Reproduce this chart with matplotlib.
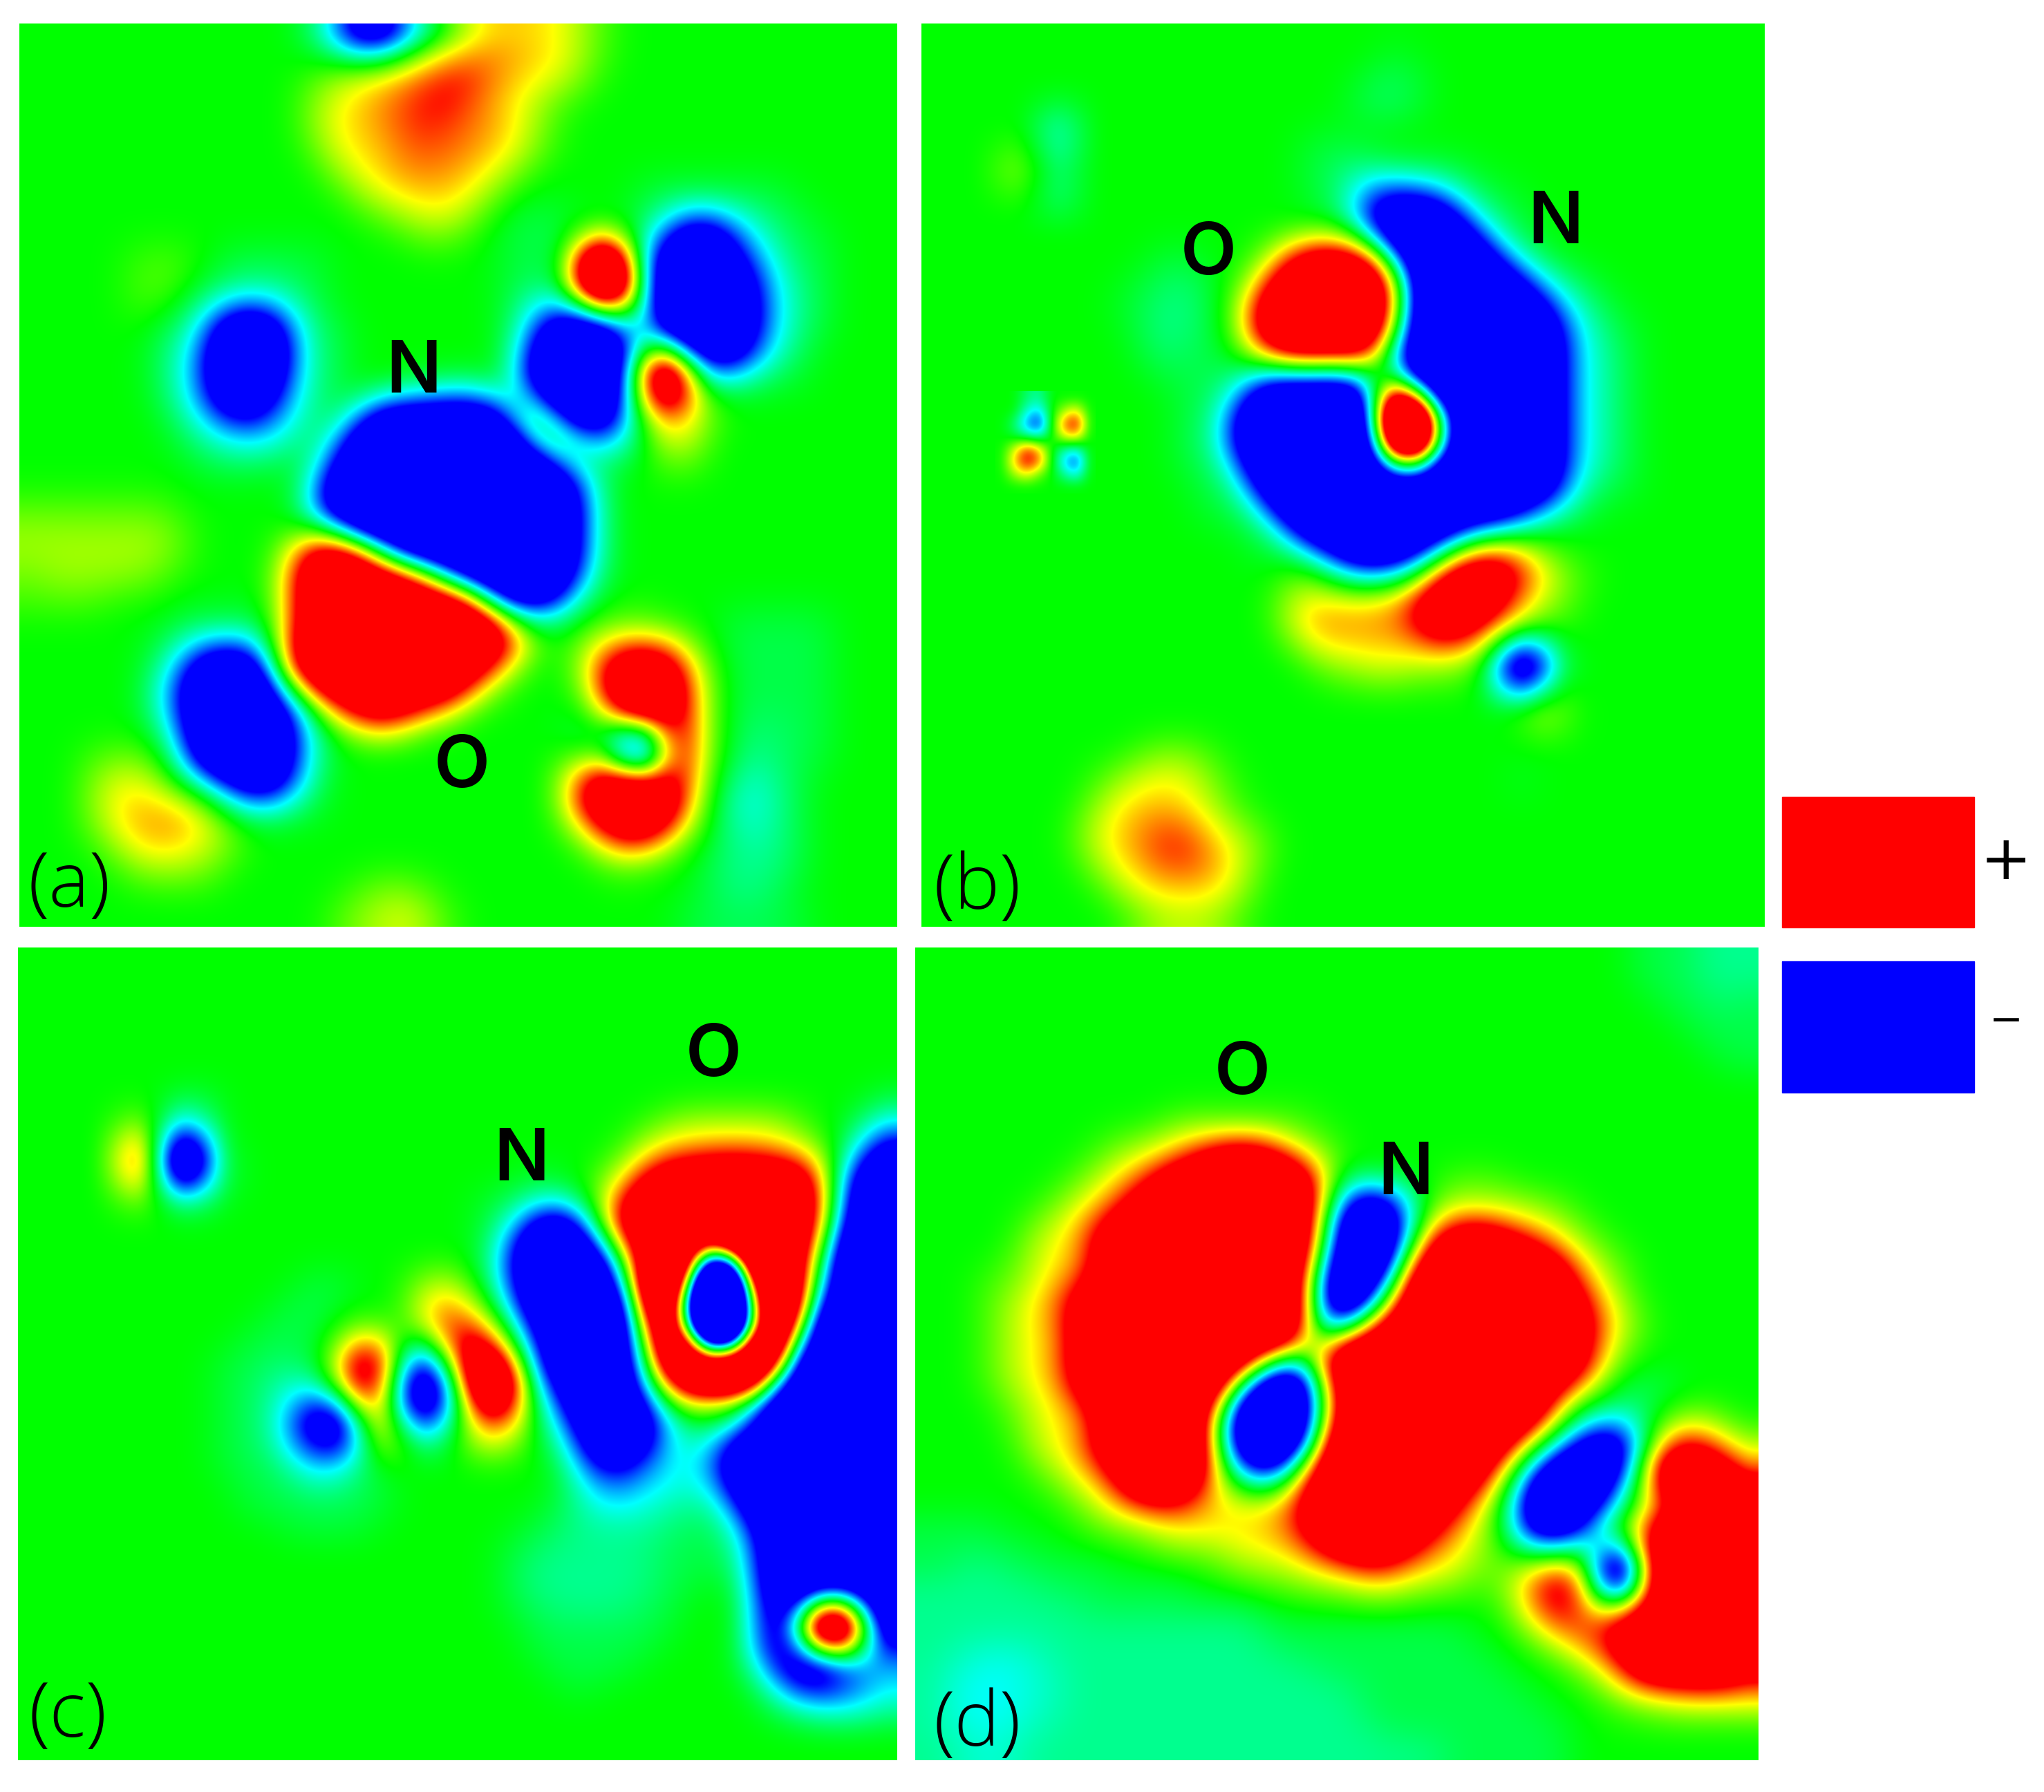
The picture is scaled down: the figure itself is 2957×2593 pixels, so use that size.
import numpy as np
import matplotlib
matplotlib.use("Agg")
import matplotlib.pyplot as plt
from matplotlib.colors import LinearSegmentedColormap
from matplotlib.patches import Rectangle

W, H = 2957, 2593
GRID = 40

# density on a 40x40 grid, as (row, first col, codes); unlisted cells are 0
LEVELS = {".": 0.0, "a": 0.16, "b": 0.32, "c": 0.55, "d": 0.8, "e": 1.1, "f": 2.0, "g": 5.0,
          "A": -0.14, "B": -0.28, "H": -0.4, "C": -0.5, "D": -0.8, "E": -1.1, "F": -2.0, "G": -5.0}

cells_a = [
    (0, 13, "BDFFECA"), (0, 20, "bccccba"), (1, 17, "bcddddccba"), (2, 13, "abccddeedcccb"), (3, 13, "bccddeedccb"),
    (4, 13, "bccddedddcba"), (5, 13, "acccddddccb"), (6, 14, "bccdddccb"),
    (7, 15, "bcccccb"), (7, 28, "AAAAAAA"),
    (8, 16, "abccb"), (8, 22, "AAA"), (8, 28, "ABCCBBAA"),
    (9, 18, "aa"), (9, 22, "AAAA"), (9, 28, "BDFFECBAA"),
    (10, 5, "aaa"), (10, 9, "AAAAA"), (10, 22, "AAA"), (10, 25, "agcCFFFEDBAA"),
    (11, 5, "aaa"), (11, 8, "AABBAA"), (11, 22, "AAA"), (11, 25, "cgfCFFFFECBA"),
    (12, 5, "aa"), (12, 7, "ABCCCBA"), (12, 22, "ACCB"), (12, 26, "ceCFFFFECBA"),
    (13, 6, "ABCFFFCBA"), (13, 22, "ADFFFE.FFFFECBA"),
    (14, 6, "ACDFFFCBA"), (14, 22, "AEFFFFcAEFFDCA"),
    (15, 6, "ACDFFFCBA"), (15, 22, "AFFFFEegaCCBAA"),
    (16, 6, "ACDFFECBA"), (16, 17, "ABCCB"), (16, 22, ".DFFFEcfca"),
    (17, 7, "BCDEDCA"), (17, 15, "CFFFFFFCeDFFDadca"),
    (18, 7, "ABCCCBA"), (18, 14, "C" + "F" * 8 + "BeACCAcc"),
    (19, 8, "AAAA"), (19, 13, "AE" + "F" * 9 + "EAA"), (19, 29, "aa"),
    (20, 13, "C" + "F" * 11 + "EA"),
    (21, 0, "aaaaaaa"), (21, 13, "D" + "F" * 11 + "EA"),
    (22, 0, "bbbbbbba"), (22, 14, "B" + "F" * 10 + "EA"),
    (23, 0, "bbbbbbba"), (23, 12, "cfff." + "F" * 8 + "EA"),
    (24, 0, "abbbbba"), (24, 12, "dfffffeE" + "F" * 5 + "DA"),
    (25, 0, "aaaa"), (25, 12, "d" + "f" * 8 + "EFFEA"),
    (26, 7, "AAAAA"), (26, 12, "d" + "f" * 9 + "da"), (26, 27, "aa"), (26, 32, "AAAAA"),
    (27, 6, "ABCCCAe"), (27, 13, "f" * 9 + "e"), (27, 25, "acccca"), (27, 32, "AAAAA"),
    (28, 6, "BDFFFD"), (28, 12, "f" * 9 + "da"), (28, 25, "aefffca"), (28, 32, "AAAAA"),
    (29, 6, "CEFFFEAe"), (29, 14, "f" * 6 + "ca"), (29, 26, "dfffda"), (29, 32, "AAAAA"),
    (30, 6, "CEFFFFEB"), (30, 14, "cefeca"), (30, 26, "afffda"), (30, 32, "AAAAA"),
    (31, 7, "DFFFFDB"), (31, 16, "a"), (31, 25, "BBDFfda"), (31, 32, "ABBAA"),
    (32, 3, "aaa"), (32, 7, "CFFFFEB"), (32, 25, "aBBGfda"), (32, 32, "ABAAA"),
    (33, 3, "bccb"), (33, 7, "BCEFFDA"), (33, 25, "effffca"), (33, 32, "BCBA"),
    (34, 3, "bccccb"), (34, 9, "BCCBA"), (34, 25, "effffc"), (34, 32, "CCBA"),
    (35, 3, "bcdddcb"), (35, 25, "beffeb"), (35, 32, "BCBA"),
    (36, 4, "bcccbb"), (36, 26, "bcca"), (36, 31, "ABBBA"),
    (37, 5, "bbbb"), (37, 27, "a"), (37, 31, "ABBBA"),
    (38, 15, "abba"), (38, 31, "ABBA"),
    (39, 14, "abbcba"), (39, 30, "AAAAAA"),
]

cells_b = [
    (1, 22, "A"), (2, 21, "AAA"), (3, 20, "ABBA"), (4, 6, "D"), (5, 6, "D"), (5, 18, "AAA"),
    (6, 4, "d"), (6, 18, "AABBAAAA"), (7, 6, "D"), (7, 18, "AACDDDCBAA"),
    (8, 19, "ABFFFFDBAA"), (9, 20, "ACFFFFDBA"),
    (10, 11, "AA"), (10, 16, "befffeCFFFFDBA"),
    (11, 10, "AABA"), (11, 15, "adfffffeFFFFFECBA"),
    (12, 9, "AABBA"), (12, 15, "cffffffeFFFFFFECBA"),
    (13, 10, "ABBA"), (13, 15, "c" + "f" * 6 + "a" + "F" * 7 + "DCAA"),
    (14, 10, "ABAAA"), (14, 15, "beffffeA" + "F" * 7 + "DCBA"),
    (15, 11, "AAAA"), (15, 15, "BDDDED." + "F" * 8 + "DCBA"),
    (16, 12, "AAB"), (16, 15, "D" + "F" * 5 + "EgE" + "F" * 6 + "DCBA"),
    (17, 12, "AAC"), (17, 15, "F" * 7 + "gga" + "F" * 5 + "DCBA"),
    (18, 12, "ABC"), (18, 15, "F" * 7 + "ggA" + "F" * 5 + "DCBA"),
    (19, 12, "AAB"), (19, 15, "E" + "F" * 6 + "BC" + "F" * 6 + "DCBA"),
    (20, 13, "AAC" + "F" * 14 + "DBAA"),
    (21, 13, "AAAC" + "F" * 11 + "ECBA"),
    (22, 15, "AAC" + "F" * 7 + "ECBA"),
    (23, 16, "A"), (23, 18, "BDFFFEB"), (23, 25, "cdeca"),
    (24, 17, "ab"), (24, 19, "ABBBadfffedba"),
    (25, 17, "bccccdefffecba"),
    (26, 17, "cdddddeffedbaa"),
    (27, 18, "ccccccdccaAA"),
    (28, 19, "bbccbbb"), (28, 27, "DGEA"),
    (29, 27, "ABa"), (30, 29, "da"),
    (32, 10, "abba"),
    (33, 8, "abcccba"), (33, 28, "A"),
    (34, 8, "bccccba"),
    (35, 7, "accdddcba"),
    (36, 7, "accdeedcca"),
    (37, 8, "bccdddca"),
    (38, 9, "bcccccb"),
    (39, 10, "abbba"),
]

# finer grid for the tiny four-lobe feature at the left of panel (b)
quad_rows = [
    [0.0, 0.0, -0.2, -0.3, 0.0, 0.0, 0.0, 0.0],
    [0.0, 0.0, -0.4, -0.6, 0.0, 0.3, 0.5, 0.0],
    [0.0, -0.2, -0.7, -1.0, 0.0, 0.8, 1.1, 0.0],
    [0.0, -0.1, -0.3, -0.4, 0.0, 0.5, 0.6, 0.0],
    [0.0, 0.4, 0.9, 0.6, 0.0, -0.3, -0.4, 0.0],
    [0.0, 0.6, 1.1, 0.8, 0.0, -0.6, -0.9, 0.0],
    [0.0, 0.3, 0.5, 0.2, 0.0, -0.3, -0.5, 0.0],
    [0.0, 0.0, 0.0, 0.0, 0.0, 0.0, 0.0, 0.0],
]

cells_c = [
    (7, 7, "AA"), (7, 39, "A"),
    (8, 5, "b"), (8, 7, "DA"), (8, 29, "abbbbba"), (8, 38, "AC"),
    (9, 5, "e"), (9, 7, "FB"), (9, 28, "bccccccb"), (9, 38, "CE"),
    (10, 5, "f"), (10, 7, "GBA"), (10, 27, "acddeeeddc"), (10, 37, "BDF"),
    (11, 5, "e"), (11, 7, "FBA"), (11, 23, "AA"), (11, 26, "ace" + "f" * 7 + "dCFF"),
    (12, 5, "b"), (12, 7, "BA"), (12, 21, "AABBA"), (12, 26, "bd" + "f" * 8 + "eDFF"),
    (13, 21, "ABEFDA"), (13, 27, "f" * 9 + "eEFF"),
    (14, 21, "ADFFFBc"), (14, 28, "ffffggffdFFF"),
    (15, 21, "AEFFFFB"), (15, 28, "ffgGGgffBFFF"),
    (16, 13, "AA"), (16, 18, "bc"), (16, 21, "ADFFFFD"), (16, 28, "fgaGGgffCFFF"),
    (17, 12, "AAA"), (17, 18, "cdc"), (17, 21, "ACFFFFF"), (17, 28, "cgFGGAgeEFFF"),
    (18, 11, "AAA"), (18, 15, "a"), (18, 18, "cedb"), (18, 22, "BEFFFF"), (18, 28, "agFGGbgBFFFF"),
    (19, 10, "AAAA"), (19, 15, "dd"), (19, 17, "ABdfe"), (19, 23, "DFFFF"), (19, 28, "AfgGGgfCFFFF"),
    (20, 9, "AAAB"), (20, 14, "aff"), (20, 17, "DFBffc"), (20, 23, "CFFFFA"), (20, 29, "ffgggeFFFFF"),
    (21, 9, "AABCBA"), (21, 15, "fe"), (21, 17, "EFDcgd"), (21, 23, "BEFFFDd"), (21, 30, "feeeE"), (21, 35, "FFFFF"),
    (22, 9, "AABCED"), (22, 15, "bf"), (22, 17, "FFEbfdA"), (22, 24, "CFFFEA"), (22, 30, "abb"), (22, 33, "CFFFFFF"),
    (23, 9, "AABDFFE"), (23, 16, "f"), (23, 17, "CEAbedB"), (23, 24, "BEFFFCAAB"), (23, 33, "DFFFFFF"),
    (24, 9, "AABCEED"), (24, 16, "d"), (24, 18, "BA"), (24, 20, "aca"), (24, 24, "ADFFECBCE"), (24, 33, "F" * 7),
    (25, 9, "AAABDCB"), (25, 25, "CEEDCCC"), (25, 32, "F" * 8),
    (26, 10, "AAABBAA"), (26, 25, "BDDCCCB"), (26, 32, "E" + "F" * 7),
    (27, 10, "AAAAAAA"), (27, 24, "ABCCCBBBC"), (27, 33, "F" * 7),
    (28, 12, "AAAA"), (28, 23, "AABBBBBAAB"), (28, 33, "D" + "F" * 6),
    (29, 22, "AABBBBBAAAA"), (29, 33, "D" + "F" * 6),
    (30, 22, "ABBBBBBAAAA"), (30, 33, "C" + "F" * 6),
    (31, 22, "ABBBBBBAA"), (31, 33, "CFFEEFF"),
    (32, 22, "AABBBBAA"), (32, 33, "BFDacCF"),
    (33, 23, "AAAAAAA"), (33, 33, "BFCggAF"),
    (34, 23, "AAAAAA"), (34, 33, "BFDBcCE"),
    (35, 24, "AAAA"), (35, 33, "BDFFEDC"),
    (36, 25, "A"), (36, 34, "CDEDDC"),
    (37, 34, "ABCCCB"),
]

cells_d = [
    (0, 34, "AAABBB"), (1, 34, "AAABBB"), (2, 35, "AAABA"), (3, 36, "AAAA"), (4, 37, "AAA"), (5, 38, "AA"),
    (8, 12, "aaaaaaa"),
    (9, 9, "aabcccccbaa"),
    (10, 8, "abccdefffecb"),
    (11, 7, "abcde" + "f" * 7 + "aA"), (11, 25, "aaa"),
    (12, 6, "abcde" + "f" * 8 + ".DFECa"), (12, 25, "bbbbaa"),
    (13, 5, "abcde" + "f" * 9 + "AFFFC"), (13, 24, "ccdcccba"),
    (14, 5, "bcce" + "f" * 10 + "CFFFa"), (14, 24, "dfffedcba"),
    (15, 4, "abccd" + "f" * 10 + "EFFFd"), (15, 24, "f" * 6 + "ecba"),
    (16, 3, "aabcde" + "f" * 9 + "eFFFC"), (16, 23, "f" * 8 + "dca"),
    (17, 3, "abcde" + "f" * 11 + "FFEa"), (17, 23, "f" * 8 + "ecb"),
    (18, 3, "abcce" + "f" * 10 + "eFDa"), (18, 22, "f" * 10 + "dca"),
    (19, 3, "abcce" + "f" * 10 + "ca"), (19, 20, "f" * 11 + "ecb"),
    (20, 3, "abcce" + "f" * 8 + "aEE"), (20, 19, "f" * 13 + "ca"),
    (21, 3, "abcce" + "f" * 7 + "CFFFc"), (21, 20, "f" * 10 + "eca"), (21, 33, "AAA"),
    (22, 4, "abcce" + "f" * 5 + "cFFFFc"), (22, 20, "f" * 10 + "ca"), (22, 32, "ABBA"),
    (23, 4, "abccd" + "f" * 5 + "CFFFFd"), (23, 20, "f" * 9 + "daCCCA"), (23, 35, "bcca"),
    (24, 5, "bcce" + "f" * 5 + "BFFFFf"), (24, 20, "f" * 8 + "caBEFFCcedcb"),
    (25, 5, "abcde" + "f" * 4 + "aDFEc"), (25, 19, "f" * 8 + "daCFFFEa"), (25, 35, "fffec"),
    (26, 6, "abcdfffdbaBae"), (26, 19, "f" * 7 + "ecAFFFFC."), (26, 35, "ffffe"),
    (27, 7, "abccdddcccde"), (27, 19, "f" * 6 + "ecaCFFFDA.bd"), (27, 37, "fff"),
    (28, 0, "AAAA"), (28, 8, "abbccccccde"), (28, 19, "f" * 5 + "edcaCFFEB.d"), (28, 35, "fffff"),
    (29, 0, "AAAAAA"), (29, 11, "abbbcccdefffedcbaACCBABe"), (29, 35, "fffff"),
    (30, 0, "AABBAAAAA"), (30, 14, "abbbcccddcccba"), (30, 28, "bcddDGe"), (30, 35, "fffff"),
    (31, 0, "BBBBBB" + "A" * 7), (31, 16, "aaabbccbbaa"), (31, 28, "cdfdBFd"), (31, 35, "fffff"),
    (32, 0, "B" * 8 + "A" * 9), (32, 28, "bdeeAae"), (32, 35, "fffff"),
    (33, 0, "B" * 16 + "A" * 10), (33, 29, "cdeef"), (33, 34, "ffffff"),
    (34, 0, "BBHHHHB" + "B" * 10 + "A" * 10), (34, 30, "bcde"), (34, 34, "ffffff"),
    (35, 0, "BHHCCHHB" + "B" * 11 + "A" * 9), (35, 31, "acd"), (35, 34, "fffffe"),
    (36, 0, "BHCCCHHB" + "B" * 13 + "A" * 8), (36, 32, "abccdddd"),
    (37, 0, "BHCCCHHB" + "B" * 13 + "A" * 9), (37, 33, "aabbbbb"),
    (38, 0, "BHHCHHB" + "B" * 15 + "A" * 9),
    (39, 0, "BBHHHB" + "B" * 19 + "A" * 6),
]

panel_cells = [cells_a, cells_b, cells_c, cells_d]
panel_names = ["(a)", "(b)", "(c)", "(d)"]
# left, top, right, bottom in image pixels
panel_boxes = [(28, 34, 1298, 1341), (1333, 34, 2553, 1341),
               (26, 1371, 1298, 2547), (1324, 1371, 2544, 2547)]
name_spots = [(100, 1283), (1414, 1286), (98, 2484), (1414, 2497)]
atom_names = ["N", "O", "O", "N", "N", "O", "O", "N"]
atom_spots = [(598, 540), (668, 1111), (1748, 370), (2250, 325),
              (754, 1681), (1032, 1530), (1797, 1556), (2033, 1700)]


def build_grid(cells):
    grid = np.zeros((GRID, GRID))
    for row, col, codes in cells:
        for k, code in enumerate(codes):
            grid[row, col + k] = LEVELS[code]
    # light 1-2-1 smoothing so the coarse cells don't show as lumps
    p = np.pad(grid, 1, mode="edge")
    p = (p[:-2, :] + 2 * p[1:-1, :] + p[2:, :]) / 4
    p = (p[:, :-2] + 2 * p[:, 1:-1] + p[:, 2:]) / 4
    return p


def put_text(x, y, s, **kw):
    fig.text(x / W, 1 - y / H, s, ha="center", va="center", color="black", **kw)


cmap = LinearSegmentedColormap.from_list(
    "density", ["#0000ff", "#00ffff", "#00ff00", "#ffff00", "#ff0000"], N=1024)

fig = plt.figure(figsize=(W / 100, H / 100), dpi=100, facecolor="white")

axes = []
for cells, box in zip(panel_cells, panel_boxes):
    left, top, right, bottom = box
    ax = fig.add_axes([left / W, 1 - bottom / H, (right - left) / W, (bottom - top) / H])
    ax.imshow(build_grid(cells), cmap=cmap, vmin=-1, vmax=1, aspect="auto",
              interpolation="bicubic", interpolation_stage="data")
    ax.axis("off")
    axes.append(ax)

axes[1].imshow(np.array(quad_rows), cmap=cmap, vmin=-1, vmax=1, aspect="auto",
               interpolation="bicubic", interpolation_stage="data",
               extent=(3.0, 7.74, 20.32, 15.81))
axes[1].set_xlim(-0.5, GRID - 0.5)
axes[1].set_ylim(GRID - 0.5, -0.5)

for name, spot in zip(panel_names, name_spots):
    put_text(spot[0], spot[1], name, family=["Open Sans", "DejaVu Sans"], weight="light", fontsize=80)

for name, spot in zip(atom_names, atom_spots):
    put_text(spot[0], spot[1], name, family=["Inter", "DejaVu Sans"], weight="semibold", fontsize=76)

# legend swatches
fig.add_artist(Rectangle((2578 / W, 1 - 1342 / H), 278 / W, 189 / H, color="#ff0000", transform=fig.transFigure))
fig.add_artist(Rectangle((2578 / W, 1 - 1581 / H), 278 / W, 190 / H, color="#0000ff", transform=fig.transFigure))
put_text(2902, 1247, "+", family="DejaVu Sans", fontsize=64)
put_text(2902, 1477, "\u2212", family="DejaVu Sans", fontsize=42)

fig.savefig("out.png", dpi=100)
